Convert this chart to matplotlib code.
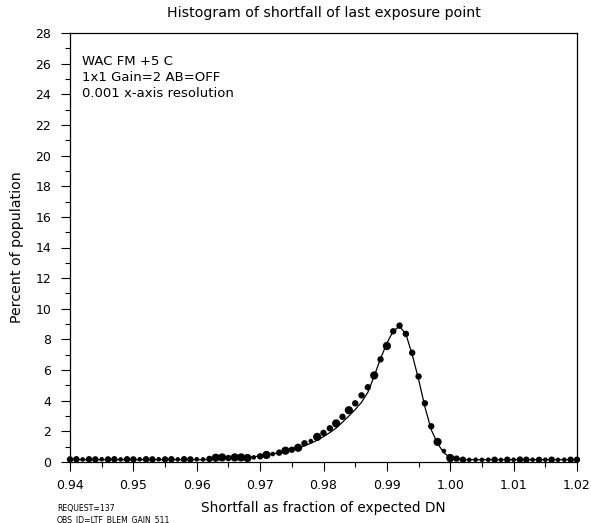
import matplotlib
matplotlib.use('Agg')
import matplotlib.pyplot as plt
import numpy
from matplotlib.ticker import MultipleLocator, FormatStrFormatter

# histogram bins, 0.001 wide, 0.940 .. 1.020
shortfall = numpy.round(numpy.arange(0.940, 1.0205, 0.001), 3)

percent = [0.17, 0.18, 0.17, 0.18, 0.17, 0.18, 0.17, 0.18, 0.17, 0.18,
           0.17, 0.18, 0.18, 0.17, 0.18, 0.17, 0.18, 0.17, 0.18, 0.17,
           0.18, 0.17, 0.20, 0.28, 0.30, 0.26, 0.30, 0.30, 0.26, 0.30,
           0.37, 0.46, 0.52, 0.61, 0.74, 0.80, 0.93, 1.22, 1.37, 1.64,
           1.90, 2.20, 2.52, 2.95, 3.38, 3.83, 4.35, 4.88, 5.65, 6.70,
           7.57, 8.53, 8.90, 8.36, 7.13, 5.58, 3.83, 2.33, 1.31, 0.72,
           0.26, 0.22, 0.15, 0.14, 0.15, 0.14, 0.15, 0.15, 0.14, 0.15,
           0.15, 0.16, 0.15, 0.15, 0.14, 0.15, 0.15, 0.14, 0.15, 0.15,
           0.15]

# smoothed curve drawn through the points
smooth = [0.15, 0.15, 0.15, 0.15, 0.15, 0.15, 0.15, 0.15, 0.15, 0.15,
          0.15, 0.15, 0.15, 0.15, 0.15, 0.15, 0.15, 0.15, 0.15, 0.15,
          0.15, 0.15, 0.17, 0.20, 0.22, 0.24, 0.26, 0.28, 0.30, 0.34,
          0.40, 0.46, 0.53, 0.61, 0.70, 0.80, 0.92, 1.06, 1.22, 1.42,
          1.65, 1.92, 2.22, 2.60, 3.00, 3.42, 3.90, 4.55, 5.60, 6.75,
          7.75, 8.55, 8.85, 8.35, 7.00, 5.40, 3.60, 2.10, 1.20, 0.60,
          0.28, 0.20, 0.15, 0.15, 0.15, 0.15, 0.15, 0.15, 0.15, 0.15,
          0.15, 0.15, 0.15, 0.15, 0.15, 0.15, 0.15, 0.15, 0.15, 0.15,
          0.15]

# relative dot weight (1 small .. 3 big)
weight = [2, 2, 1, 2, 2, 1, 2, 2, 1, 2,
          2, 1, 2, 2, 1, 2, 2, 1, 2, 2,
          1, 1, 2, 3, 3, 2, 3, 3, 3, 1,
          2, 3, 1, 2, 3, 2, 3, 2, 1, 3,
          2, 2, 3, 2, 3, 2, 2, 2, 3, 2,
          3, 2, 2, 2, 2, 2, 2, 2, 3, 1,
          3, 2, 2, 1, 1, 1, 1, 2, 1, 2,
          1, 2, 2, 1, 2, 1, 2, 1, 1, 2,
          2]

fig = plt.figure(figsize=(5.91, 5.23), dpi=100)
ax = fig.add_axes([70 / 591, 1 - 462 / 523, 507 / 591, 429 / 523])

ax.plot(shortfall, smooth, '-', color='black', lw=0.9, zorder=2)
sizes = [(2.0 + 1.3 * w) ** 2 for w in weight]
ax.scatter(shortfall, percent, s=sizes, c='black', lw=0, zorder=3, clip_on=False)

ax.set_xlim(0.94, 1.02)
ax.set_ylim(0, 28)
ax.xaxis.set_major_locator(MultipleLocator(0.01))
ax.xaxis.set_minor_locator(MultipleLocator(0.005))
ax.yaxis.set_major_locator(MultipleLocator(2))
ax.yaxis.set_minor_locator(MultipleLocator(1))
ax.xaxis.set_major_formatter(FormatStrFormatter('%.2f'))
ax.tick_params(which='major', direction='out', length=6.5, width=0.8, labelsize=9)
ax.tick_params(axis='y', which='major', pad=7)
ax.tick_params(axis='x', which='major', pad=5.5)
ax.tick_params(which='minor', direction='out', length=3.6, width=0.8)
for s in ax.spines.values():
    s.set_linewidth(0.9)

ax.set_title('Histogram of shortfall of last exposure point', fontsize=10.2, pad=11.5)
ax.set_xlabel('Shortfall as fraction of expected DN', fontsize=9.8, labelpad=7)
ax.yaxis.set_label_coords(-46 / 507, 0.5)
ax.set_ylabel('Percent of population', fontsize=10.2)

ax.text(0.024, 0.948, 'WAC FM +5 C\n1x1 Gain=2 AB=OFF\n0.001 x-axis resolution',
        transform=ax.transAxes, fontsize=9.5, va='top', ha='left', linespacing=1.3)

fig.text(57 / 591, 1 - 508 / 523, 'REQUEST=137', fontsize=5.6, va='center')
fig.text(57 / 591, 1 - 520 / 523, 'OBS_ID=LTF_BLEM_GAIN_511', fontsize=5.6, va='center')

fig.savefig('out.png', dpi=100)
